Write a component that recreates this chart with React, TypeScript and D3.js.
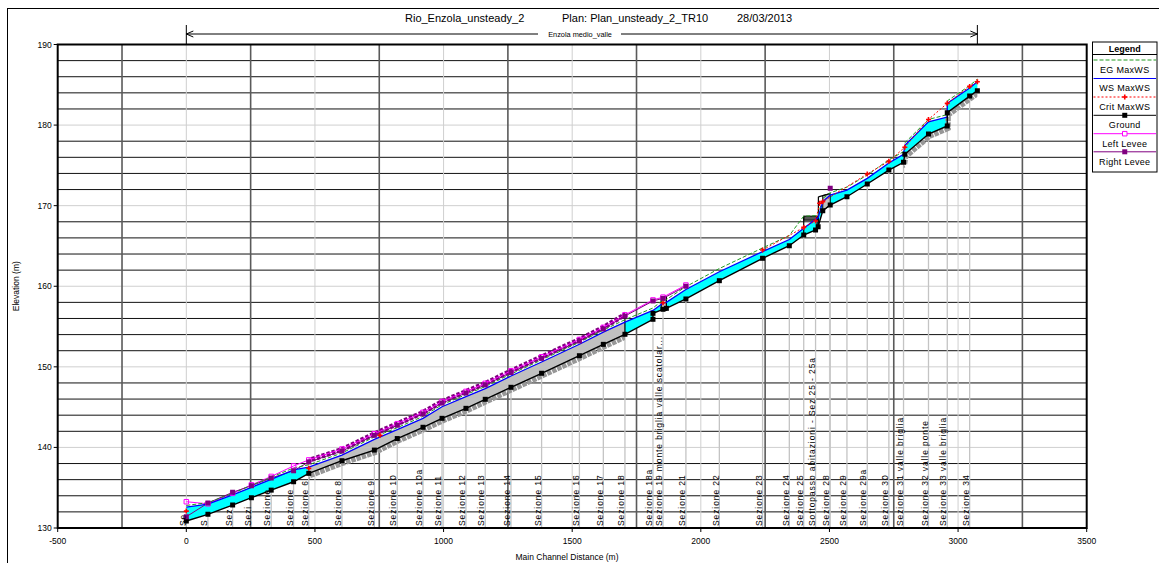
import React from "react";
import * as d3 from "d3";

// ---------- DATA ----------
const xTickValues = [-500, 0, 500, 1000, 1500, 2000, 2500, 3000, 3500];
const yTickValues = [130, 140, 150, 160, 170, 180, 190];

// Ground profile (main channel), with drops at weirs
const groundStation = [0, 84, 180, 253, 330, 417, 476, 605, 731, 820, 920, 994, 1087, 1162, 1262, 1381, 1528, 1621, 1705, 1814, 1814, 1853, 1866, 1942, 2072, 2240, 2344, 2400, 2446, 2456, 2474, 2503, 2568, 2647, 2731, 2788, 2793, 2885, 2958, 2958, 3045, 3075];
const groundElev = [130.87, 131.7, 132.85, 133.76, 134.7, 135.74, 136.78, 138.35, 139.67, 141.1, 142.5, 143.61, 144.85, 145.97, 147.46, 149.2, 151.38, 152.79, 154.04, 155.9, 156.64, 157.14, 157.26, 158.42, 160.69, 163.47, 165.03, 166.36, 166.98, 167.39, 169.37, 170.08, 171.11, 172.69, 174.42, 175.38, 176.37, 178.89, 179.89, 181.54, 183.6, 184.27];

// Water surface / energy grade (max WS)
const wsStation = [0, 84, 180, 253, 330, 417, 476, 605, 731, 820, 920, 994, 1087, 1162, 1262, 1381, 1528, 1621, 1705, 1814, 1853, 1866, 1942, 2072, 2240, 2344, 2400, 2446, 2456, 2474, 2503, 2568, 2647, 2731, 2788, 2793, 2885, 2958, 2958, 3045, 3075];
const wsElev = [132.6, 132.95, 134.1, 135.05, 136.04, 137.2, 137.55, 139.05, 141.0, 142.2, 143.6, 145.05, 146.3, 147.3, 148.86, 150.6, 152.8, 154.3, 155.55, 157.0, 157.9, 158.0, 159.6, 161.8, 164.3, 165.8, 167.2, 168.3, 168.5, 170.5, 171.3, 171.94, 173.39, 175.3, 176.37, 177.5, 180.4, 181.0, 182.7, 184.6, 185.38];
const egElev = [132.8, 133.15, 134.3, 135.3, 136.3, 137.45, 137.85, 139.3, 141.3, 142.45, 143.85, 145.3, 146.55, 147.55, 149.1, 150.85, 153.05, 154.55, 155.85, 157.3, 158.3, 158.35, 159.95, 162.2, 164.75, 166.3, 168.7, 168.75, 168.8, 170.9, 171.6, 172.3, 173.8, 175.7, 176.7, 177.8, 180.7, 181.3, 183.0, 184.9, 185.7];

// Critical water surface
const critStation = [0, 476, 753, 1853, 2240, 2400, 2446, 2462, 2474, 2647, 2731, 2793, 2885, 2958, 3045, 3075];
const critElev = [132.1, 137.4, 141.5, 157.95, 164.5, 167.3, 168.1, 170.3, 170.5, 173.93, 175.5, 177.25, 180.7, 182.7, 184.8, 185.38];

// Levees
const leveeStation = [0, 84, 180, 253, 330, 417, 476, 605, 731, 820, 920, 994, 1087, 1162, 1262, 1381, 1528, 1621, 1705, 1814, 1853, 1942];
const leftLeveeElev = [133.26, 133.0, 134.3, 135.35, 136.4, 137.7, 138.45, 139.8, 141.7, 142.95, 144.35, 145.7, 146.95, 147.95, 149.5, 151.25, 153.4, 154.9, 156.45, 158.3, 158.65, 160.15];
const rightLeveeElev = [131.4, 133.1, 134.43, 135.25, 136.2, 137.1, 138.2, 139.55, 141.5, 142.75, 144.15, 145.5, 146.75, 147.75, 149.3, 151.05, 153.2, 154.7, 156.3, 158.17, 158.5, 160.0];
const extraRightLeveeStation = [2503];
const extraRightLeveeElev = [172.15];

// Labelled cross sections
const sectionStation = [0, 84, 180, 253, 330, 417, 476, 605, 731, 820, 920, 994, 1087, 1162, 1262, 1381, 1528, 1621, 1705, 1814, 1853, 1942, 2072, 2240, 2344, 2400, 2446, 2503, 2568, 2647, 2731, 2788, 2885, 2958, 3045];
const sectionGround = [130.87, 131.7, 132.85, 133.76, 134.7, 135.74, 136.78, 138.35, 139.67, 141.1, 142.5, 143.61, 144.85, 145.97, 147.46, 149.2, 151.38, 152.79, 154.04, 155.9, 157.14, 158.42, 160.69, 163.47, 165.03, 166.36, 166.98, 170.08, 171.11, 172.69, 174.42, 175.38, 178.89, 179.89, 183.6];
const sectionLabel = ["Se", "S", "Sez", "Sezi", "Sezione", "Sezione", "Sezione 6", "Sezione 8", "Sezione 9", "Sezione 10", "Sezione 10a", "Sezione 11", "Sezione 12", "Sezione 13", "Sezione 14", "Sezione 15", "Sezione 16", "Sezione 17", "Sezione 18", "Sezione 18a", "Sezione 19 monte briglia valle scatolar...", "Sezione 21", "Sezione 22", "Sezione 23", "Sezione 24", "Sezione 25", "Sottopasso abitazioni - Sez 25 - 25a", "Sezione 28", "Sezione 29", "Sezione 29a", "Sezione 30", "Sezione 31 valle briglia", "Sezione 32 valle ponte", "Sezione 33 valle briglia", "Sezione 34"];

// Ranges with interpolated sections
const interpFrom = [476, 2788];
const interpTo = [1705, 3075];

// Structures
const culvertStation = [1846, 1866];
const culvertElev = [157.0, 158.7];
const deckStation = [2400, 2452];
const deckElev = [168.2, 168.7];
const bridgeStation = [2457, 2474, 2503];
const bridgeTop = [171.1, 171.25, 171.5];
const bridgeBottom = [167.39, 169.37, 170.08];

const legendLabels = ["EG  MaxWS", "WS  MaxWS", "Crit  MaxWS", "Ground", "Left Levee", "Right Levee"];
const legendColors = ["#1f9a1f", "#0000ff", "#ff0000", "#000000", "#ff00ff", "#800080"];

const FONT = "'Liberation Sans', Arial, sans-serif";

export default function App() {
  const W = 1159, H = 563;
  const L = 57.7, R = 1086.7, T = 44.5, B = 528;
  const x = d3.scaleLinear().domain([-500, 3500]).range([L, R]);
  const y = d3.scaleLinear().domain([130, 190]).range([B, T]);
  const pts = (s: number[], e: number[]) => s.map((d, i) => [x(d), y(e[i])] as [number, number]);
  const line = d3.line();

  const ground = pts(groundStation, groundElev);
  const ws = pts(wsStation, wsElev);
  const eg = pts(wsStation, egElev);
  const waterPoly = line([...ws, ...ground.slice().reverse()]) + "Z";
  const ll = pts(leveeStation, leftLeveeElev);
  const rl = pts(leveeStation, rightLeveeElev);
  const crit = pts(critStation, critElev);
  const critUpper = crit.filter((_, i) => critStation[i] >= 2240);

  const vGrid = d3.range(-250, 3500, 250);
  const hGrid = d3.range(132, 190, 2);

  const sq = (cx: number, cy: number, s: number) => `M${cx - s / 2},${cy - s / 2}h${s}v${s}h${-s}Z`;

  const legX0 = 1092.5, legX1 = 1157;
  const legendLineY = [60, 78.5, 97, 115.3, 133.7, 151.8];

  return (
    <svg width={W} height={H} style={{ position: "absolute", left: 0, top: 0, background: "#fff" }} fontFamily={FONT}>
      <defs>
        <clipPath id="plotClip"><rect x={L} y={T} width={R - L} height={B - T} /></clipPath>
        {interpFrom.map((f, i) => (
          <clipPath id={`interp${i}`} key={i}><rect x={x(f)} y={T} width={x(interpTo[i]) - x(f)} height={B - T} /></clipPath>
        ))}
      </defs>
      <rect x={0} y={0} width={W} height={H} fill="#fff" />
      {/* outer frame */}
      <line x1={7} y1={8.5} x2={W} y2={8.5} stroke="#000" strokeWidth={1} />
      <line x1={7.5} y1={8} x2={7.5} y2={H} stroke="#000" strokeWidth={1} />

      {/* title */}
      <text x={405} y={22} fontSize={11} fill="#000">Rio_Enzola_unsteady_2</text>
      <text x={562} y={22} fontSize={11} fill="#000">Plan: Plan_unsteady_2_TR10</text>
      <text x={737} y={22} fontSize={11} fill="#000">28/03/2013</text>

      {/* reach arrow */}
      <g stroke="#000" strokeWidth={1}>
        <line x1={x(0)} y1={25} x2={x(0)} y2={T} />
        <line x1={x(3075)} y1={25} x2={x(3075)} y2={T} />
        <line x1={x(0)} y1={34} x2={x(3075)} y2={34} />
        <polyline fill="none" points={`${x(0) + 7},31 ${x(0)},34 ${x(0) + 7},37`} />
        <polyline fill="none" points={`${x(3075) - 7},31 ${x(3075)},34 ${x(3075) - 7},37`} />
      </g>
      <rect x={538} y={29} width={83} height={10} fill="#fff" />
      <text x={580} y={37} fontSize={8} textAnchor="middle" fill="#000" transform="translate(580,0) scale(0.92,1) translate(-580,0)">Enzola medio_valle</text>

      {/* grid */}
      <g clipPath="url(#plotClip)">
        {hGrid.map((h) => (
          <line key={"h" + h} x1={L} x2={R} y1={y(h)} y2={y(h)} stroke={h % 10 === 0 ? "#cfcfcf" : "#111"} strokeWidth={1} />
        ))}
        {vGrid.map((v) => (
          <line key={"v" + v} x1={x(v)} x2={x(v)} y1={T} y2={B} stroke={v % 500 === 0 ? "#cfcfcf" : "#5a5a5a"} strokeWidth={v % 500 === 0 ? 1 : 1.6} />
        ))}
        {/* section lines */}
        {sectionStation.map((s, i) => (
          <line key={"s" + i} x1={x(s)} x2={x(s)} y1={B} y2={y(sectionGround[i])} stroke="#c4c4c4" strokeWidth={1.3} />
        ))}

        {/* water fill */}
        <path d={waterPoly} fill="#00ffff" stroke="none" />
        <g clipPath="url(#interp0)">
          <path d={waterPoly} fill="#c0c0c0" stroke="none" />
        </g>
        {/* interpolated ground stair bands */}
        {interpFrom.map((f, i) => (
          <g key={"ib" + i} clipPath={`url(#interp${i})`}>
            <path d={line(ground) as string} fill="none" stroke="#979797" strokeWidth={5.5} strokeDasharray="4.5 1" transform="translate(0.8,2.3)" />
          </g>
        ))}
        {/* interpolated right levee band */}
        <g clipPath="url(#interp0)">
          <path d={line(rl) as string} fill="none" stroke="#800080" strokeWidth={5} strokeDasharray="3.5 1.8" transform="translate(0,-1.5)" />
        </g>
        <line x1={x(1705)} x2={x(1705)} y1={y(154.04)} y2={y(156.3)} stroke="#000" strokeWidth={1.2} />

        {/* structures */}
        <rect x={x(culvertStation[0])} y={y(culvertElev[1])} width={x(culvertStation[1]) - x(culvertStation[0])} height={y(culvertElev[0]) - y(culvertElev[1])} fill="#c0c0c0" stroke="#000" strokeWidth={1.2} />
        <rect x={x(deckStation[0])} y={y(deckElev[1])} width={x(deckStation[1]) - x(deckStation[0])} height={y(deckElev[0]) - y(deckElev[1])} fill="#555" stroke="#000" strokeWidth={1} />
        <line x1={x(deckStation[0])} x2={x(deckStation[0])} y1={y(deckElev[1])} y2={y(166.36)} stroke="#000" strokeWidth={1.2} />
        <line x1={x(deckStation[1])} x2={x(deckStation[1])} y1={y(deckElev[1])} y2={y(167.1)} stroke="#000" strokeWidth={1.2} />
        <path d={(line([...pts(bridgeStation.slice(1), bridgeTop.slice(1)), ...pts(bridgeStation.slice(1), bridgeBottom.slice(1)).reverse()]) as string) + "Z"} fill="#c0c0c0" stroke="#000" strokeWidth={1} />
        <path d={line(pts(bridgeStation, bridgeTop)) as string} fill="none" stroke="#000" strokeWidth={1.2} />
        <line x1={x(bridgeStation[0])} x2={x(bridgeStation[0])} y1={y(bridgeTop[0])} y2={y(bridgeBottom[0])} stroke="#000" strokeWidth={1.2} />

        {/* levee lines */}
        <path d={line(ll) as string} fill="none" stroke="#ff00ff" strokeWidth={1} />
        <path d={line(rl) as string} fill="none" stroke="#800080" strokeWidth={1} />
        {/* EG */}
        <path d={line(eg) as string} fill="none" stroke="#1f9a1f" strokeWidth={1} strokeDasharray="4 2" />
        {/* WS */}
        <path d={line(ws) as string} fill="none" stroke="#0000ff" strokeWidth={1.3} />
        {/* Crit */}
        <path d={line(critUpper) as string} fill="none" stroke="#ff0000" strokeWidth={1} strokeDasharray="2 2" />
        {crit.map(([cx, cy], i) => (
          <path key={"c" + i} d={`M${cx - 2.5},${cy}h5M${cx},${cy - 2.5}v5`} stroke="#ff0000" strokeWidth={1.6} />
        ))}
        {/* Ground */}
        <path d={line(ground) as string} fill="none" stroke="#000" strokeWidth={1.4} />
        {ground.map(([gx, gy], i) => (
          <path key={"g" + i} d={sq(gx, gy, 5)} fill="#000" />
        ))}
        {/* levee markers */}
        {ll.map(([lx, ly], i) => (
          <path key={"l" + i} d={sq(lx, ly, 4.5)} fill="none" stroke="#ff00ff" strokeWidth={1} />
        ))}
        {rl.map(([rx, ry], i) => (
          <path key={"r" + i} d={sq(rx, ry, 5)} fill="#800080" />
        ))}
        {pts(extraRightLeveeStation, extraRightLeveeElev).map(([rx, ry], i) => (
          <path key={"re" + i} d={sq(rx, ry, 5)} fill="#800080" />
        ))}

        {/* section labels */}
        {sectionStation.map((s, i) => (
          <text key={"t" + i} transform={`translate(${x(s) - 0.8},526) rotate(-90)`} fontSize={8.5} letterSpacing={0.9} fill="#000">{sectionLabel[i]}</text>
        ))}
      </g>

      {/* plot border */}
      <rect x={L} y={T} width={R - L} height={B - T} fill="none" stroke="#000" strokeWidth={2} />

      {/* y axis ticks */}
      {yTickValues.map((v) => (
        <g key={"yt" + v}>
          <line x1={L - 4} x2={L} y1={y(v)} y2={y(v)} stroke="#000" />
          <text x={L - 6} y={y(v) + 3} fontSize={8.5} textAnchor="end" fill="#000">{v}</text>
        </g>
      ))}
      {/* x axis ticks */}
      {xTickValues.map((v) => (
        <g key={"xt" + v}>
          <line x1={x(v)} x2={x(v)} y1={B} y2={B + 4} stroke="#000" />
          <text x={x(v)} y={544} fontSize={8.5} textAnchor="middle" fill="#000">{v}</text>
        </g>
      ))}
      <text transform={`translate(19,${(T + B) / 2}) rotate(-90)`} fontSize={8.5} textAnchor="middle" fill="#000">Elevation  (m)</text>
      <text x={567} y={560} fontSize={8.5} textAnchor="middle" fill="#000">Main Channel Distance (m)</text>

      {/* legend */}
      <rect x={legX0} y={42} width={legX1 - legX0} height={130} fill="#fff" stroke="#000" strokeWidth={1} />
      <text x={(legX0 + legX1) / 2} y={52} fontSize={9} fontWeight="bold" textAnchor="middle" fill="#000">Legend</text>
      <line x1={legX0} x2={legX1} y1={54.5} y2={54.5} stroke="#000" />
      {legendLabels.map((lab, i) => {
        const ly = legendLineY[i];
        const c = legendColors[i];
        const cx = (legX0 + legX1) / 2;
        return (
          <g key={"lg" + i}>
            <line x1={legX0 + 1} x2={legX1 - 1} y1={ly} y2={ly} stroke={c} strokeWidth={1} strokeDasharray={i === 0 ? "4 2" : i === 2 ? "2 2" : undefined} />
            {i === 2 && <path d={`M${cx - 2.5},${ly}h5M${cx},${ly - 2.5}v5`} stroke={c} strokeWidth={1.6} />}
            {i === 3 && <path d={sq(cx, ly, 5)} fill={c} />}
            {i === 4 && <path d={sq(cx, ly, 4.5)} fill="#fff" stroke={c} />}
            {i === 5 && <path d={sq(cx, ly, 5)} fill={c} />}
            <text x={cx} y={ly + 12.8} fontSize={9} letterSpacing={0.3} textAnchor="middle" fill="#000">{lab}</text>
          </g>
        );
      })}
    </svg>
  );
}
